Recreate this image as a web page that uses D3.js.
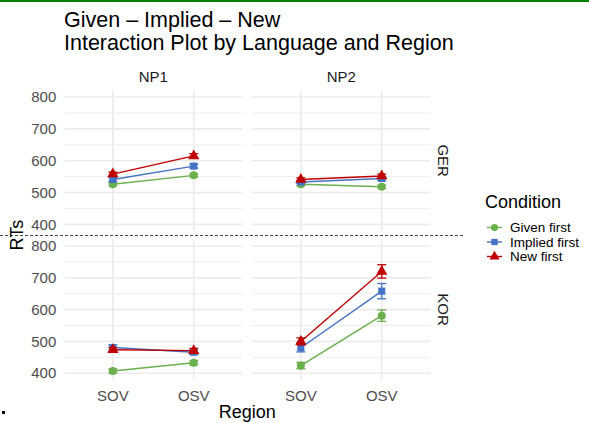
<!DOCTYPE html>
<html>
<head>
<meta charset="utf-8">
<script src="https://cdn.jsdelivr.net/npm/d3@7"></script>
<style>
    body { margin: 0; background: #fff; }
    svg { font-family: "Liberation Sans", Arial, sans-serif; display: block; }
</style>
</head>
<body>
<div id="chart"></div>
<script>
// Data.
const regions = ["SOV", "OSV"];
const positions = ["NP1", "NP2"];
const languages = ["GER", "KOR"];
const conditions = ["Given first", "Implied first", "New first"];
const yTicks = [400, 500, 600, 700, 800];

// means per condition: [NP1 SOV, NP1 OSV, NP2 SOV, NP2 OSV]
const gerGiven = [526, 554, 526, 518];
const gerImplied = [541, 583, 533, 544];
const gerNew = [558, 615, 541, 552];
const korGiven = [407, 433, 424, 581];
const korImplied = [481, 466, 480, 658];
const korNew = [474, 471, 500, 720];

// standard errors, same layout
const gerGivenSe = [5, 5, 5, 5];
const gerImpliedSe = [6, 6, 5, 6];
const gerNewSe = [6, 7, 5, 6];
const korGivenSe = [7, 7, 10, 18];
const korImpliedSe = [8, 7, 13, 24];
const korNewSe = [7, 7, 11, 21];

const colors = ["#6AB04C", "#4472C4", "#C00000"];

const series = {
    GER: [[gerGiven, gerGivenSe], [gerImplied, gerImpliedSe], [gerNew, gerNewSe]],
    KOR: [[korGiven, korGivenSe], [korImplied, korImpliedSe], [korNew, korNewSe]]
};

const W = 589, H = 423;
const panelW = 178, panelH = 140;
const panelX = [64.3, 252.3];
const panelY = [90.7, 239.6];

const svg = d3.select("#chart").append("svg")
    .attr("width", W)
    .attr("height", H);

svg.append("rect").attr("width", W).attr("height", H).attr("fill", "#fff");

// green rule along the top edge
svg.append("rect").attr("x", 0).attr("y", 0).attr("width", W).attr("height", 2).attr("fill", "#008000");

// Title
svg.append("text").attr("x", 64).attr("y", 27).attr("font-size", 21.5).attr("fill", "#000")
    .text("Given \u2013 Implied \u2013 New");
svg.append("text").attr("x", 64).attr("y", 50).attr("font-size", 21.5).attr("fill", "#000")
    .text("Interaction Plot by Language and Region");

const y = d3.scaleLinear().domain([380, 820]).range([panelH, 0]);
const x = d3.scalePoint().domain(regions).range([0, panelW]).padding(0.6);

const symbols = [d3.symbolCircle, d3.symbolSquare, d3.symbolTriangle];
const symbolSizes = [50, 50, 55];

languages.forEach((lang, li) => {
    positions.forEach((pos, pi) => {
        const g = svg.append("g")
            .attr("transform", "translate(" + panelX[pi] + "," + panelY[li] + ")");

        // minor gridlines
        d3.range(450, 800, 100).forEach(v => {
            g.append("line")
                .attr("x1", 0).attr("x2", panelW)
                .attr("y1", y(v)).attr("y2", y(v))
                .attr("stroke", "#EBEBEB").attr("stroke-width", 0.9);
        });
        // major gridlines
        yTicks.forEach(v => {
            g.append("line")
                .attr("x1", 0).attr("x2", panelW)
                .attr("y1", y(v)).attr("y2", y(v))
                .attr("stroke", "#EBEBEB").attr("stroke-width", 1.6);
        });
        regions.forEach(r => {
            g.append("line")
                .attr("x1", x(r)).attr("x2", x(r))
                .attr("y1", 0).attr("y2", panelH)
                .attr("stroke", "#EBEBEB").attr("stroke-width", 1.6);
        });

        // y tick labels on left panels
        if (pi === 0) {
            yTicks.forEach(v => {
                svg.append("text")
                    .attr("x", panelX[0] - 8)
                    .attr("y", panelY[li] + y(v))
                    .attr("dy", "0.35em")
                    .attr("text-anchor", "end")
                    .attr("font-size", 15)
                    .attr("fill", "#4D4D4D")
                    .text(v);
            });
        }

        // x tick labels on bottom panels
        if (li === 1) {
            regions.forEach(r => {
                svg.append("text")
                    .attr("x", panelX[pi] + x(r))
                    .attr("y", panelY[1] + panelH + 21)
                    .attr("text-anchor", "middle")
                    .attr("font-size", 15)
                    .attr("fill", "#4D4D4D")
                    .text(r);
            });
        }

        // lines, error bars, points
        series[lang].forEach((s, ci) => {
            const means = s[0].slice(pi * 2, pi * 2 + 2);
            const ses = s[1].slice(pi * 2, pi * 2 + 2);
            const pts = regions.map((r, i) => ({ r: r, m: means[i], se: ses[i] }));

            g.append("path")
                .attr("d", d3.line().x(d => x(d.r)).y(d => y(d.m))(pts))
                .attr("fill", "none")
                .attr("stroke", colors[ci])
                .attr("stroke-width", 1.4);

            pts.forEach(d => {
                const cx = x(d.r);
                g.append("line")
                    .attr("x1", cx).attr("x2", cx)
                    .attr("y1", y(d.m - d.se)).attr("y2", y(d.m + d.se))
                    .attr("stroke", colors[ci]).attr("stroke-width", 1.3);
                [d.m - d.se, d.m + d.se].forEach(v => {
                    g.append("line")
                        .attr("x1", cx - 4.5).attr("x2", cx + 4.5)
                        .attr("y1", y(v)).attr("y2", y(v))
                        .attr("stroke", colors[ci]).attr("stroke-width", 1.3);
                });
                g.append("path")
                    .attr("d", d3.symbol().type(symbols[ci]).size(symbolSizes[ci])())
                    .attr("transform", "translate(" + cx + "," + y(d.m) + ")")
                    .attr("fill", colors[ci]);
            });
        });
    });
});

// strip labels
positions.forEach((pos, pi) => {
    svg.append("text")
        .attr("x", panelX[pi] + panelW / 2)
        .attr("y", 82)
        .attr("text-anchor", "middle")
        .attr("font-size", 15)
        .attr("fill", "#1A1A1A")
        .text(pos);
});
languages.forEach((lang, li) => {
    const cy = panelY[li] + panelH / 2;
    svg.append("text")
        .attr("transform", "translate(438," + cy + ") rotate(90)")
        .attr("text-anchor", "middle")
        .attr("font-size", 15)
        .attr("fill", "#1A1A1A")
        .text(lang);
});

// dashed separator between languages
svg.append("line")
    .attr("x1", 0).attr("x2", 463)
    .attr("y1", 235.5).attr("y2", 235.5)
    .attr("stroke", "#444")
    .attr("stroke-width", 1)
    .attr("stroke-dasharray", "3,2");

// axis titles
svg.append("text")
    .attr("x", panelX[0] + (panelX[1] + panelW - panelX[0]) / 2)
    .attr("y", 418)
    .attr("text-anchor", "middle")
    .attr("font-size", 18)
    .attr("fill", "#000")
    .text("Region");
svg.append("text")
    .attr("transform", "translate(23," + ((panelY[0] + panelY[1] + panelH) / 2) + ") rotate(-90)")
    .attr("text-anchor", "middle")
    .attr("font-size", 18)
    .attr("fill", "#000")
    .text("RTs");

// legend
const legend = svg.append("g").attr("transform", "translate(485,0)");
legend.append("text")
    .attr("x", 0).attr("y", 208)
    .attr("font-size", 18)
    .attr("fill", "#000")
    .text("Condition");
conditions.forEach((c, ci) => {
    const cy = 227.5 + ci * 14.5;
    legend.append("line")
        .attr("x1", 2).attr("x2", 17)
        .attr("y1", cy).attr("y2", cy)
        .attr("stroke", colors[ci]).attr("stroke-width", 1.4);
    legend.append("path")
        .attr("d", d3.symbol().type(symbols[ci]).size(symbolSizes[ci] * 0.8)())
        .attr("transform", "translate(9.5," + cy + ")")
        .attr("fill", colors[ci]);
    legend.append("text")
        .attr("x", 25).attr("y", cy)
        .attr("dy", "0.35em")
        .attr("font-size", 13.5)
        .attr("fill", "#000")
        .text(c);
});

// stray mark in the lower-left corner
svg.append("rect").attr("x", 2).attr("y", 411).attr("width", 3).attr("height", 3).attr("fill", "#000");
</script>
</body>
</html>
